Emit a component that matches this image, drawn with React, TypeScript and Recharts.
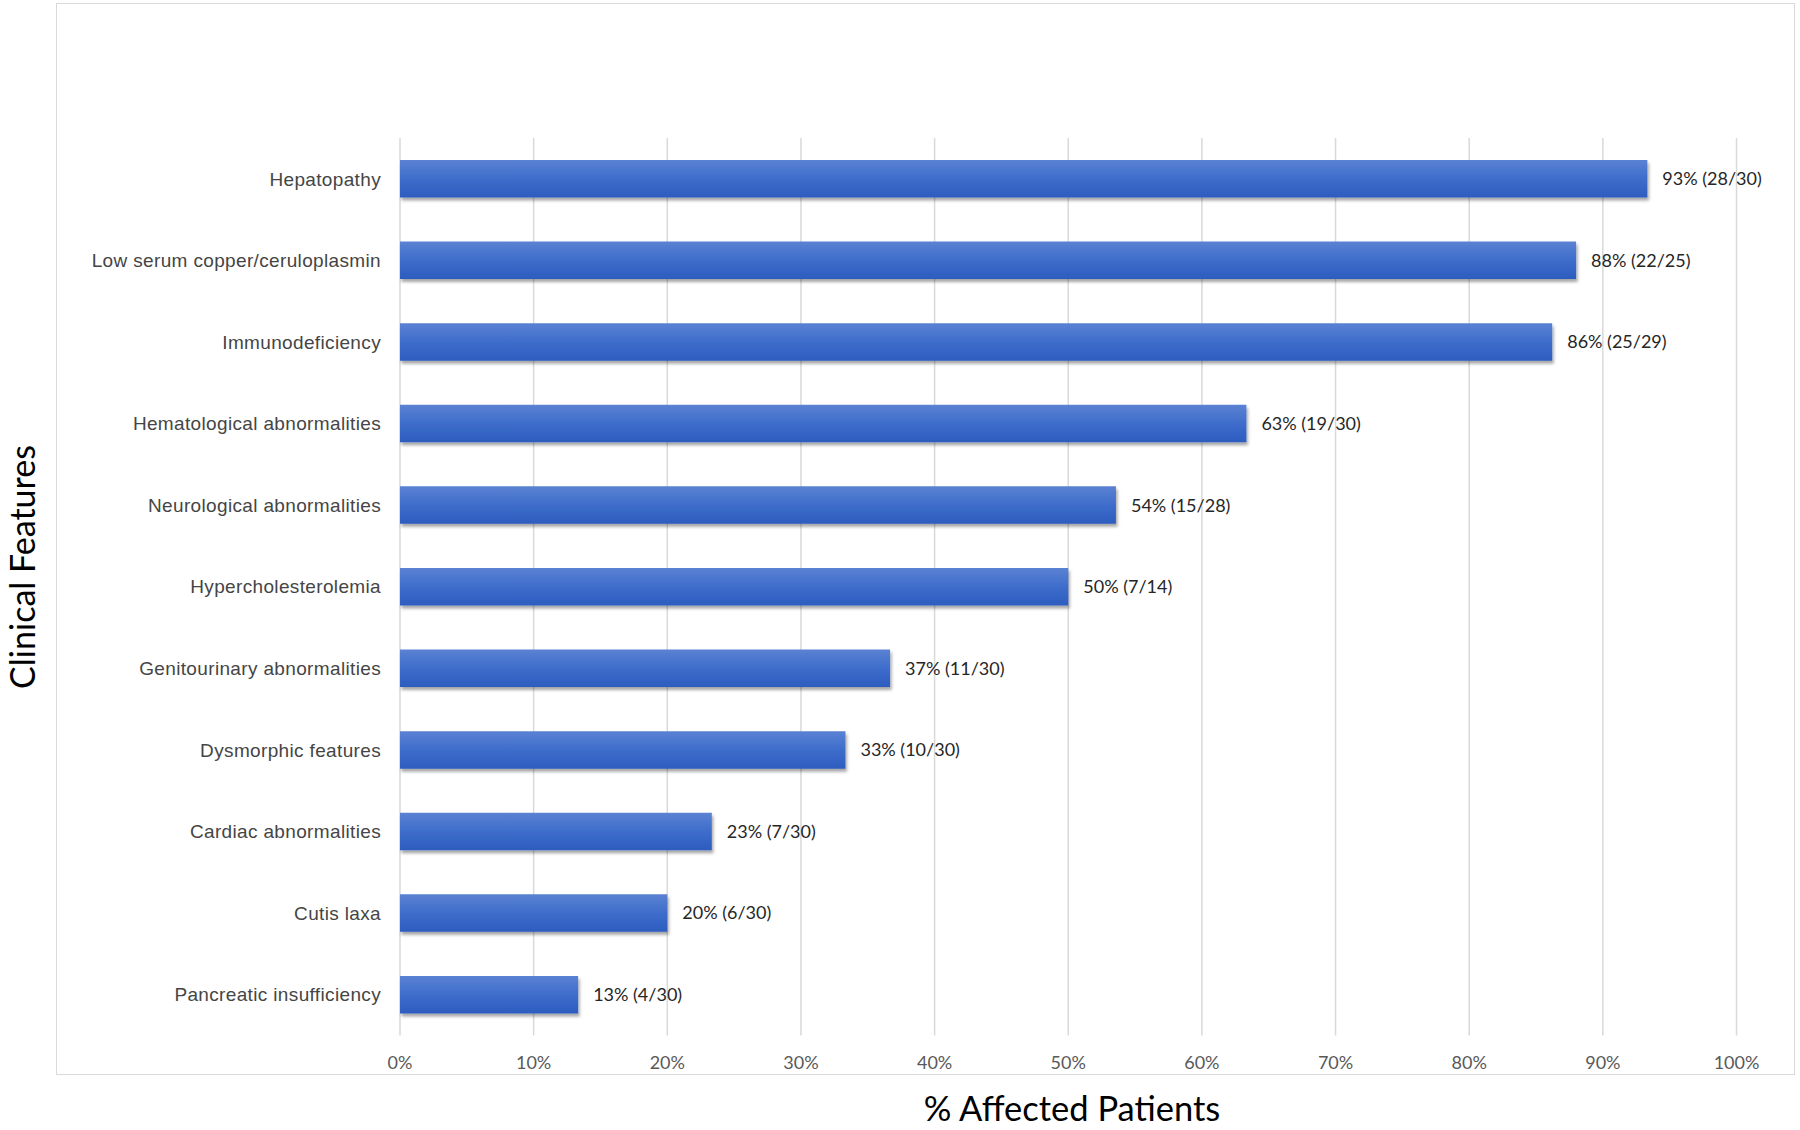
import React from 'react';
import { BarChart, Bar, XAxis, YAxis, CartesianGrid, LabelList, Label } from 'recharts';

const features = [
  'Hepatopathy',
  'Low serum copper/ceruloplasmin',
  'Immunodeficiency',
  'Hematological abnormalities',
  'Neurological abnormalities',
  'Hypercholesterolemia',
  'Genitourinary abnormalities',
  'Dysmorphic features',
  'Cardiac abnormalities',
  'Cutis laxa',
  'Pancreatic insufficiency',
];

const percentValues = [93.33, 88, 86.21, 63.33, 53.57, 50, 36.67, 33.33, 23.33, 20, 13.33];

const valueLabels = [
  '93% (28/30)',
  '88% (22/25)',
  '86% (25/29)',
  '63% (19/30)',
  '54% (15/28)',
  '50% (7/14)',
  '37% (11/30)',
  '33% (10/30)',
  '23% (7/30)',
  '20% (6/30)',
  '13% (4/30)',
];

const xTicks = [0, 10, 20, 30, 40, 50, 60, 70, 80, 90, 100];

const data = features.map((name, i) => ({ name, value: percentValues[i], label: valueLabels[i] }));

export default function App() {
  return (
    <div style={{ position: 'absolute', left: 0, top: 0, width: 1800, height: 1130, background: '#fff' }}>
      <div
        style={{
          position: 'absolute',
          left: 56,
          top: 3,
          width: 1739,
          height: 1072,
          border: '1.5px solid #d9d9d9',
          boxSizing: 'border-box',
        }}
      />
      <div style={{ position: 'absolute', left: 0, top: 0 }}>
        <BarChart
          width={1800}
          height={1130}
          data={data}
          layout="vertical"
          margin={{ top: 138, right: 63.5, bottom: 0, left: 0 }}
        >
          <defs>
            <linearGradient id="barGrad" x1="0" y1="0" x2="0" y2="1">
              <stop offset="0%" stopColor="#5b82d3" />
              <stop offset="50%" stopColor="#3e6dcb" />
              <stop offset="100%" stopColor="#2c5cbf" />
            </linearGradient>
            <filter id="barShadow" x="-5%" y="-20%" width="110%" height="160%">
              <feDropShadow dx="1.5" dy="3" stdDeviation="1.8" floodColor="#000" floodOpacity="0.35" />
            </filter>
          </defs>
          <CartesianGrid horizontal={false} stroke="#d9d9d9" strokeWidth={1.5} />
          <XAxis
            type="number"
            domain={[0, 100]}
            ticks={xTicks}
            tickFormatter={(v: number) => `${v}%`}
            axisLine={false}
            tickLine={false}
            tickSize={0}
            tickMargin={21}
            height={94.5}
            interval={0}
            tick={{ fill: '#595959', fontSize: 18, fontFamily: 'Lato' }}
          >
            <Label
              content={() => (
                <text
                  x={1072}
                  y={1121}
                  textAnchor="middle"
                  fill="#000"
                  fontSize={34.5}
                  fontFamily="Lato"
                >
                  % Affected Patients
                </text>
              )}
            />
          </XAxis>
          <YAxis
            type="category"
            dataKey="name"
            width={400}
            axisLine={false}
            tickLine={false}
            tickSize={0}
            tickMargin={19}
            interval={0}
            tick={{ fill: '#454545', fontSize: 19, fontFamily: 'Liberation Sans', letterSpacing: 0.35 }}
          >
            <Label
              content={() => (
                <text
                  x={35}
                  y={567}
                  transform="rotate(-90, 35, 567)"
                  textAnchor="middle"
                  fill="#000"
                  fontSize={34}
                  fontFamily="Lato"
                >
                  Clinical Features
                </text>
              )}
            />
          </YAxis>
          <Bar
            dataKey="value"
            barSize={37.5}
            fill="url(#barGrad)"
            filter="url(#barShadow)"
            isAnimationActive={false}
          >
            <LabelList
              dataKey="label"
              position="right"
              offset={15}
              fill="#262626"
              fontSize={18}
              fontFamily="Lato"
            />
          </Bar>
        </BarChart>
      </div>
    </div>
  );
}
